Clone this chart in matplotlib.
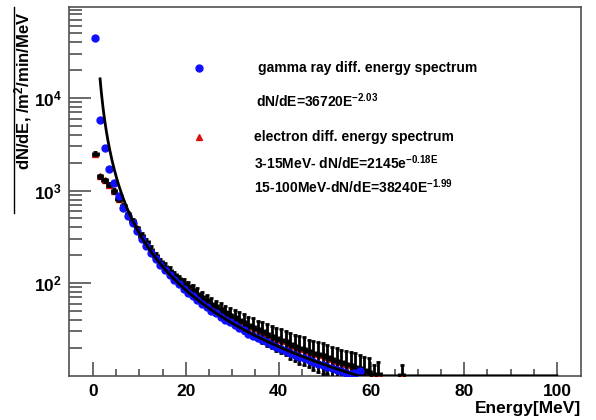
import numpy as np
import matplotlib
matplotlib.use('Agg')
import matplotlib.pyplot as plt
from matplotlib.ticker import FixedLocator, LogFormatterSciNotation, NullFormatter
from matplotlib.lines import Line2D

plt.rcParams['font.family'] = ['Liberation Sans', 'DejaVu Sans']
plt.rcParams['font.weight'] = 'bold'
plt.rcParams['mathtext.fontset'] = 'custom'
plt.rcParams['mathtext.rm'] = 'Liberation Sans:bold'
plt.rcParams['mathtext.bf'] = 'Liberation Sans:bold'
plt.rcParams['mathtext.it'] = 'Liberation Sans:bold'
plt.rcParams['mathtext.default'] = 'rm'

# gamma ray spectrum, 1 MeV bins
gamma_E = np.arange(0.5, 58, 1.0)
gamma_dNdE = [45000, 5750, 2850, 1720, 1200, 880, 650, 530, 450, 365,
              300, 250, 212, 182, 158, 139, 122, 108, 97, 87,
              79, 72, 65, 60, 55, 50, 47, 43, 40, 37.5,
              35, 32.5, 31, 28.5, 27, 25.5, 24, 23, 21.5, 20.5,
              19.5, 18.5, 17.5, 16.8, 16, 15.5, 14.8, 14, 13.5, 13,
              12.5, 12, 11.6, 11.2, 10.8, 10.5, 10.8, 11.2]

# electron spectrum
elec_E = np.append(np.arange(0.5, 62, 1.0), 66.5)
elec_dNdE = [2500, 1430, 1300, 1160, 990, 810, 680, 560, 470, 390,
             325, 275, 230, 195, 168, 150, 136, 122, 110, 100,
             92, 84, 77, 71, 65, 60, 56, 52, 48.5, 45.5,
             42.5, 40, 37.5, 35.5, 33.5, 31.5, 30, 28.5, 27, 25.5,
             24.5, 23.5, 22, 21, 20, 19.5, 18.5, 17.5, 17, 16.5,
             16, 15, 14.5, 14, 13.5, 13, 12.5, 12, 11.5, 11,
             10.1, 10.5, 10.1]
elec_err = [100, 55, 50, 45, 38, 32, 27, 22, 19, 16,
            26, 22, 19, 16, 14, 13, 12, 11, 10, 9.5,
            12, 11.5, 11, 10, 9.5, 9, 8.5, 8.5, 8, 8,
            8.5, 8.5, 8.5, 8, 8, 7.5, 7.5, 7.5, 7, 7,
            7, 7, 7, 6.5, 6.5, 6.5, 6, 6, 6, 6,
            5.5, 5.5, 5.5, 5, 5, 5, 5, 4.5, 4.5, 4.5,
            3, 3.5, 3]

# gamma power law fit dN/dE = A * E^k
fit_A = 36720
fit_k = -2.03

ymin, ymax = 9.9, 9.64e4

fig = plt.figure(figsize=(5.96, 4.2), dpi=100)
ax = fig.add_axes([69/596, 1-376/420, 512/596, 369/420])

ax.plot(elec_E, elec_dNdE, ls='none', marker='^', ms=4.5, color='#dd1010', zorder=3)
ax.errorbar(elec_E, elec_dNdE, yerr=elec_err, xerr=0.5, fmt='none', ecolor='black',
            elinewidth=2, capsize=1.5, capthick=2, zorder=4)
ax.plot(gamma_E, gamma_dNdE, ls='none', marker='o', ms=5, color='#1010ff', zorder=5)

fit_E = np.linspace(1.5, 100, 800)
fit_y = np.maximum(fit_A * fit_E ** fit_k, ymin * 1.005)
ax.plot(fit_E, fit_y, color='black', lw=2, zorder=6)

ax.set_yscale('log')
ax.set_xlim(-5.2, 105.2)
ax.set_ylim(ymin, ymax)

ax.xaxis.set_major_locator(FixedLocator([0, 20, 40, 60, 80, 100]))
ax.xaxis.set_minor_locator(FixedLocator([5, 10, 15, 25, 30, 35, 45, 50, 55, 65, 70, 75, 85, 90, 95]))
ax.yaxis.set_major_locator(FixedLocator([1e2, 1e3, 1e4]))
ax.yaxis.set_major_formatter(LogFormatterSciNotation())
minors = [m * 10 ** d for d in range(1, 5) for m in range(2, 10)]
ax.yaxis.set_minor_locator(FixedLocator(minors))
ax.yaxis.set_minor_formatter(NullFormatter())

frame_c = '#505050'
for s in ax.spines.values():
    s.set_color(frame_c)
    s.set_linewidth(1.2)
ax.tick_params(axis='both', which='both', direction='in', color=frame_c, width=1.2,
               labelsize=12.5, top=False, right=False)
ax.tick_params(axis='x', which='major', length=10, pad=6)
ax.tick_params(axis='x', which='minor', length=5)
ax.tick_params(axis='y', which='major', length=16, pad=5)
ax.tick_params(axis='y', which='minor', length=9)
for lab in ax.get_xticklabels() + ax.get_yticklabels():
    lab.set_fontweight('bold')

ax.set_xlabel('Energy[MeV]', fontsize=12.5, fontweight='bold', loc='right', labelpad=1)
fig.text(23/596, 1-11/420, 'dN/dE, /m$^2$/min/MeV', rotation=90, fontsize=12,
         fontweight='bold', ha='center', va='top')
fig.add_artist(Line2D([14/596, 14/596], [1-7/420, 1-213/420], color='black', lw=1))

# legend-like annotations
def fx(px):
    return px / 596

def fy(py):
    return 1 - py / 420

fig.add_artist(Line2D([fx(199)], [fy(68)], marker='o', ms=5, color='#1010ff', ls='none'))
fig.add_artist(Line2D([fx(199)], [fy(137)], marker='^', ms=4.5, color='#dd1010', ls='none'))
fs = 10
fig.text(fx(258), fy(68), 'gamma ray diff. energy spectrum', fontsize=fs, fontweight='bold', va='center')
fig.text(fx(256), fy(101), 'dN/dE=36720E$^{-2.03}$', fontsize=fs, fontweight='bold', va='center')
fig.text(fx(254), fy(137), 'electron diff. energy spectrum', fontsize=fs, fontweight='bold', va='center')
fig.text(fx(254), fy(163), '3-15MeV- dN/dE=2145e$^{-0.18E}$', fontsize=fs, fontweight='bold', va='center')
fig.text(fx(254), fy(187), '15-100MeV-dN/dE=38240E$^{-1.99}$', fontsize=fs, fontweight='bold', va='center')

fig.savefig('out.png', dpi=100)
